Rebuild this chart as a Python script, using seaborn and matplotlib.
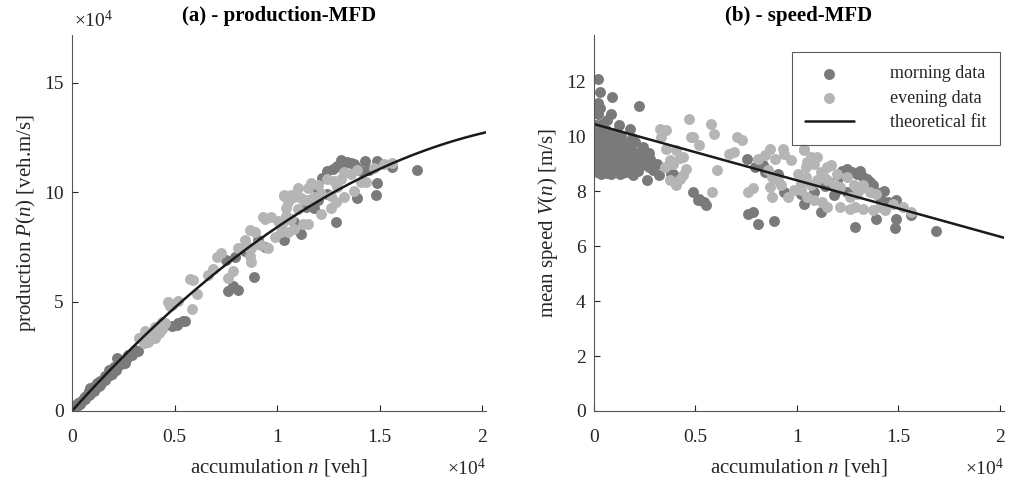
import numpy as np
import pandas as pd
import seaborn as sns
import matplotlib.pyplot as plt
from matplotlib.ticker import FuncFormatter

# accumulation n [veh] and mean speed V [m/s]
morning_n = [210, 300, 900, 200, 300, 2200, 200, 830, 660, 100, 1230, 1800,
             150, 120, 180, 140, 110, 170, 380, 420, 350, 400, 330, 380,
             620, 580, 650, 600, 560, 640, 870, 830, 900, 850, 880,
             1120, 1080, 1150, 1100, 1060, 1360, 1330, 1400, 1310, 1380,
             1620, 1580, 1650, 1600, 1870, 1830, 1900, 1850,
             2040, 2120, 2080, 2150, 2400, 2450, 2380, 2600,
             2720, 2760, 2920, 3090, 2700, 340, 820, 1310, 1950, 3200, 3800, 3900,
             4860, 5110, 5190, 5430, 5510, 7530, 7610, 7860, 8100, 8880,
             7940, 8340, 8420, 9070, 9390, 10360, 10200,
             12460, 12710, 12950, 13270, 13430, 13760, 13920, 14080, 14890,
             11980, 11660, 10850, 11170, 13920, 14890, 15620, 12870, 14810,
             16830, 11820, 12460, 12200, 13100, 13600, 14300, 14500, 12000, 11400]
morning_v = [12.1, 11.6, 11.45, 11.2, 11.05, 11.1, 10.8, 10.8, 10.6, 10.4, 10.4, 10.28,
             10.15, 9.85, 9.55, 9.25, 8.95, 8.7, 10.45, 10.0, 9.7, 9.4, 9.1, 8.8,
             10.25, 9.85, 9.5, 9.2, 8.9, 8.65, 10.1, 9.7, 9.35, 9.0, 8.7,
             10.15, 9.8, 9.45, 9.1, 8.75, 10.0, 9.6, 9.25, 8.9, 8.65,
             9.75, 9.35, 9.0, 8.7, 9.95, 9.5, 9.15, 8.8,
             9.8, 9.4, 9.05, 8.75, 9.6, 9.25, 8.95, 8.4,
             9.4, 9.19, 8.76, 9.0, 8.9, 8.64, 8.64, 8.64, 8.58, 8.6, 8.64, 8.64,
             7.97, 7.7, 7.73, 7.61, 7.49, 9.19, 7.19, 7.25, 6.8, 6.92,
             8.88, 8.95, 8.7, 8.64, 7.97, 7.55, 7.92,
             8.82, 8.7, 8.64, 8.52, 8.46, 8.22, 7.97, 7.79, 7.67,
             8.4, 8.28, 7.97, 7.25, 7.0, 7.0, 7.13, 6.7, 6.68,
             6.56, 7.85, 7.97, 8.75, 8.75, 8.35, 8.0, 7.6, 8.05, 8.2]

evening_n = [3250, 3570, 3330, 3570, 4060, 4380, 4540, 4220, 3730, 3730, 3900, 3490,
             3730, 4220, 4380, 4060, 4700, 4790,
             5760, 5920, 4860, 5190, 7050, 7290, 6640, 6890, 6080, 5830, 7610, 7860,
             8100, 8420, 8670, 8910, 9310, 9390, 9710, 10360, 8580, 8750, 9070,
             8670, 9230, 9550, 8750, 9880, 10200, 10440, 10040, 10440,
             10360, 10690, 11010, 10520, 10850, 11490, 11660, 11170, 11330, 10360,
             10690, 11010, 11490, 11820, 12140, 12460, 11980, 12790, 13110, 13270,
             13600, 13920, 12620, 12950, 10200, 10520, 10850, 11250, 11490, 12140,
             12620, 12870, 13270, 13760, 14080, 14320, 14730, 15220, 15620]
evening_v = [10.28, 10.22, 9.97, 9.55, 9.49, 9.25, 8.83, 8.46, 8.4, 9.13, 9.0, 8.88,
             9.0, 9.2, 8.58, 8.22, 10.64, 9.97,
             10.46, 10.1, 9.97, 9.67, 9.97, 9.88, 9.37, 9.43, 8.76, 7.97, 7.97, 8.13,
             9.19, 9.31, 9.55, 9.19, 9.55, 9.37, 9.13, 9.49, 8.76, 8.52, 8.4,
             8.16, 8.22, 7.79, 7.79, 8.04, 8.28, 8.52, 8.64, 8.88,
             9.55, 9.25, 9.25, 9.07, 9.0, 8.88, 8.95, 8.7, 8.52, 8.4,
             8.22, 8.4, 8.4, 8.28, 8.16, 8.52, 8.64, 8.22, 8.1, 8.22,
             7.97, 7.92, 7.79, 7.92, 8.04, 7.79, 7.67, 7.61, 7.43, 7.43,
             7.37, 7.43, 7.37, 7.31, 7.43, 7.31, 7.55, 7.43, 7.25]

# theoretical fit: V(n) = fit_v0 + fit_slope * n
fit_v0 = 10.45
fit_slope = -2.05e-4
n_max = 20200

morning = pd.DataFrame({'n': morning_n, 'V': morning_v})
evening = pd.DataFrame({'n': evening_n, 'V': evening_v})
for d in (morning, evening):
    d['P'] = d['n'] * d['V']

fit = pd.DataFrame({'n': np.linspace(0, n_max, 200)})
fit['V'] = fit_v0 + fit_slope * fit['n']
fit['P'] = fit['n'] * fit['V']

sns.set_style('ticks')
plt.rcParams['font.family'] = ['Liberation Serif', 'DejaVu Serif']
plt.rcParams['mathtext.fontset'] = 'custom'
plt.rcParams['mathtext.rm'] = 'Liberation Serif'
plt.rcParams['mathtext.it'] = 'Liberation Serif:italic'
plt.rcParams['xtick.direction'] = 'in'
plt.rcParams['ytick.direction'] = 'in'

dark = '#7a7a7a'
light = '#b5b5b5'
txt = '#262626'
msize = 62

fig = plt.figure(figsize=(10.1, 4.84), dpi=100)
ax1 = fig.add_axes([0.0713, 0.151, 0.41, 0.777])
ax2 = fig.add_axes([0.588, 0.151, 0.406, 0.777])

# (a) production-MFD
sns.scatterplot(data=morning, x='n', y='P', color=dark, s=msize, linewidth=0, ax=ax1)
sns.scatterplot(data=evening, x='n', y='P', color=light, s=msize, linewidth=0, ax=ax1)
sns.lineplot(data=fit, x='n', y='P', color='#1a1a1a', linewidth=1.8, ax=ax1)
ax1.set_xlim(0, n_max)
ax1.set_ylim(0, 17.2e4)
ax1.set_xticks([0, 5000, 10000, 15000, 20000])
ax1.set_yticks([0, 5e4, 10e4, 15e4])
ax1.set_ylabel(r'production $P(n)$ [veh.m/s]', fontsize=15, color=txt)
ax1.set_title('(a) - production-MFD', fontsize=15, fontweight='bold', color='black', pad=10)
ax1.text(0.005, 1.01, r'$\times10^4$', transform=ax1.transAxes, fontsize=14, color=txt,
         ha='left', va='bottom')

# (b) speed-MFD
sns.scatterplot(data=morning, x='n', y='V', color=dark, s=msize, linewidth=0, ax=ax2,
                label='morning data')
sns.scatterplot(data=evening, x='n', y='V', color=light, s=msize, linewidth=0, ax=ax2,
                label='evening data')
sns.lineplot(data=fit, x='n', y='V', color='#1a1a1a', linewidth=1.8, ax=ax2,
             label='theoretical fit')
ax2.set_xlim(0, n_max)
ax2.set_ylim(0, 13.7)
ax2.set_xticks([0, 5000, 10000, 15000, 20000])
ax2.set_yticks([0, 2, 4, 6, 8, 10, 12])
ax2.set_ylabel(r'mean speed $V(n)$ [m/s]', fontsize=15, color=txt)
ax2.set_title('(b) - speed-MFD', fontsize=15, fontweight='bold', color='black', pad=10)
leg = ax2.legend(loc='upper right', bbox_to_anchor=(0.99, 0.955), borderaxespad=0,
                 fontsize=13, frameon=True, fancybox=False, handlelength=2.7,
                 handletextpad=2.0, borderpad=0.75, labelspacing=0.42)
leg.get_frame().set_edgecolor('#333333')
leg.get_frame().set_linewidth(0.8)
for t in leg.get_texts():
    t.set_color(txt)

fmt = FuncFormatter(lambda v, p: '%g' % (v / 1e4))
for ax in (ax1, ax2):
    ax.xaxis.set_major_formatter(fmt)
    ax.set_xlabel(r'accumulation $n$ [veh]', fontsize=15, color=txt, labelpad=8)
    ax.tick_params(labelsize=14, colors=txt, length=4, width=0.8, pad=6)
    ax.tick_params(axis='x', pad=13)
    for side in ('left', 'bottom'):
        ax.spines[side].set_color('#555555')
        ax.spines[side].set_linewidth(0.8)
    sns.despine(ax=ax)
    ax.text(1.0, -0.152, r'$\times10^4$', transform=ax.transAxes, fontsize=14,
            color=txt, ha='right', va='center')
ax1.yaxis.set_major_formatter(FuncFormatter(lambda v, p: '%g' % (v / 1e4)))

fig.savefig('out.png', dpi=100)
